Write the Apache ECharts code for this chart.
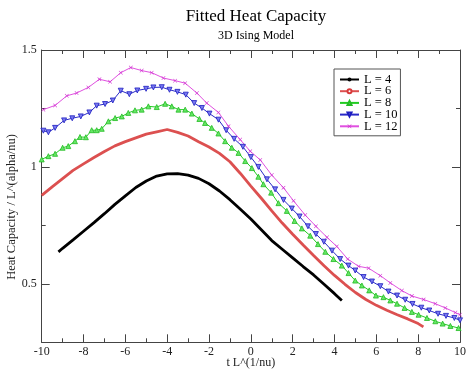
<!DOCTYPE html>
<html><head><meta charset="utf-8">
<script src="https://cdn.jsdelivr.net/npm/echarts@6/dist/echarts.min.js"></script>
<style>html,body{margin:0;padding:0;background:#fff}#c{width:466px;height:369px}</style>
</head><body><div id="c"></div>
<script>
// ---- data ----
const l4X=[-9.2,-9,-8.5,-8,-7.5,-7,-6.5,-6,-5.5,-5,-4.5,-4,-3.5,-3,-2.5,-2,-1.5,-1,-0.5,0,0.5,1,1.5,2,2.5,3,3.5,4,4.35];
const l4Y=[0.637,0.652,0.688,0.725,0.762,0.800,0.840,0.876,0.912,0.940,0.961,0.970,0.971,0.965,0.951,0.928,0.897,0.860,0.819,0.777,0.731,0.685,0.648,0.611,0.574,0.538,0.498,0.458,0.429];

const l6X=[-10,-9.5,-9,-8.5,-8,-7.5,-7,-6.5,-6,-5.5,-5,-4.5,-4,-3.5,-3,-2.5,-2,-1.5,-1,-0.5,0,0.5,1,1.5,2,2.5,3,3.5,4,4.5,5,5.5,6,6.5,7,7.5,8,8.25];
const l6Y=[0.878,0.915,0.950,0.985,1.013,1.040,1.066,1.090,1.108,1.124,1.140,1.150,1.160,1.148,1.132,1.108,1.085,1.058,1.022,0.972,0.918,0.866,0.812,0.760,0.712,0.666,0.621,0.577,0.536,0.498,0.463,0.433,0.408,0.387,0.368,0.350,0.330,0.316];

const l8X=[-10,-9.68,-9.36,-9.0,-8.73,-8.41,-8.17,-7.89,-7.61,-7.37,-7.13,-6.81,-6.49,-6.17,-5.86,-5.54,-5.22,-4.90,-4.50,-4.10,-3.78,-3.46,-3.14,-2.82,-2.46,-2.19,-1.87,-1.55,-1.23,-0.91,-0.59,-0.27,0.05,0.36,0.60,0.97,1.32,1.72,2.09,2.44,2.84,3.21,3.56,3.95,4.35,4.67,4.99,5.31,5.66,5.98,6.34,6.67,6.99,7.35,7.70,8.02,8.42,8.82,9.17,9.54,9.93];
const l8Y=[1.032,1.046,1.056,1.082,1.089,1.110,1.128,1.127,1.157,1.157,1.163,1.195,1.209,1.216,1.231,1.242,1.245,1.259,1.256,1.270,1.259,1.245,1.245,1.228,1.205,1.188,1.167,1.143,1.110,1.082,1.060,1.025,0.995,0.958,0.926,0.890,0.845,0.812,0.769,0.737,0.706,0.670,0.637,0.606,0.578,0.546,0.514,0.493,0.472,0.450,0.443,0.429,0.415,0.397,0.380,0.368,0.354,0.340,0.330,0.320,0.311];

const l10X=[-9.92,-9.68,-9.36,-8.93,-8.54,-8.13,-7.72,-7.37,-6.97,-6.60,-6.22,-5.81,-5.43,-5.01,-4.66,-4.26,-3.89,-3.51,-3.11,-2.71,-2.34,-1.98,-1.55,-1.18,-0.80,-0.38,0.00,0.36,0.77,1.16,1.56,1.96,2.33,2.73,3.11,3.49,3.88,4.27,4.67,4.99,5.39,5.79,6.19,6.58,6.99,7.38,7.73,8.15,8.53,8.95,9.33,9.73,10];
const l10Y=[1.155,1.148,1.167,1.199,1.208,1.216,1.233,1.262,1.269,1.284,1.326,1.311,1.327,1.334,1.340,1.341,1.330,1.321,1.309,1.273,1.252,1.228,1.202,1.157,1.120,1.086,1.042,1.000,0.947,0.904,0.859,0.822,0.788,0.746,0.713,0.680,0.642,0.606,0.578,0.557,0.529,0.510,0.490,0.467,0.450,0.432,0.414,0.398,0.386,0.372,0.363,0.354,0.344];

const l12X=[-9.92,-9.36,-8.80,-8.33,-7.77,-7.24,-6.73,-6.22,-5.74,-5.22,-4.74,-4.18,-3.62,-3.14,-2.58,-2.11,-1.55,-1.07,-0.51,-0.03,0.45,1.00,1.56,2.04,2.60,3.11,3.64,4.11,4.63,5.15,5.63,6.19,6.67,7.22,7.70,8.26,8.82,9.30,9.78,10];
const l12Y=[1.245,1.263,1.304,1.316,1.340,1.375,1.364,1.403,1.425,1.412,1.403,1.380,1.369,1.358,1.316,1.273,1.233,1.174,1.117,1.067,1.030,0.965,0.911,0.855,0.794,0.746,0.699,0.660,0.606,0.575,0.567,0.535,0.504,0.471,0.448,0.433,0.415,0.397,0.377,0.368];

const seriesNames=['L = 4','L = 6','L = 8','L = 10','L = 12'];
const yMajorTicks=[0.5,1,1.5];
const yMinorTicks=[0.75,1.25];
const titleText='Fitted Heat Capacity';
const subtitleText='3D Ising Model';
const xName='t L^(1/nu)';
const yName='Heat Capacity / L^(alpha/nu)';

// ---- chart ----
const FONT='"Liberation Serif","DejaVu Serif",serif';
const AX='#444';
function pts(xs,ys){return xs.map((x,i)=>[x,ys[i]]);}
const xBase={type:'value',min:-10,max:10,interval:2,gridIndex:0,
  axisLine:{onZero:false,lineStyle:{color:AX,width:1}},splitLine:{show:false},
  axisTick:{inside:true,length:8,lineStyle:{color:AX}},
  minorTick:{show:true,splitNumber:2,length:4,lineStyle:{color:AX}}};
function yAx(pos,ticks,len,line,labels){
  return {type:'value',min:0.25,max:1.5,gridIndex:0,position:pos,
    axisLine:{show:line,onZero:false,lineStyle:{color:AX,width:1}},splitLine:{show:false},
    axisTick:{show:true,inside:true,length:len,lineStyle:{color:AX},customValues:ticks},
    axisLabel:labels?{fontFamily:FONT,fontSize:12,color:'#222',margin:5,customValues:ticks}:{show:false}};
}
const crossX='path://M0,1L1,0L5,4L9,0L10,1L6,5L10,9L9,10L5,6L1,10L0,9L4,5Z';

const chart=echarts.init(document.getElementById('c'),null,{renderer:'canvas'});
chart.setOption({
  animation:false,
  backgroundColor:'#fff',
  title:[
    {text:titleText,left:251,top:3,textAlign:'center',textStyle:{fontFamily:FONT,fontSize:17,fontWeight:'normal',color:'#000'}},
    {text:subtitleText,left:251,top:25,textAlign:'center',textStyle:{fontFamily:FONT,fontSize:12,fontWeight:'normal',color:'#000'}}
  ],
  grid:{left:41.7,right:6,top:50,bottom:26.7,containLabel:false,outerBoundsMode:'none'},
  legend:{orient:'vertical',left:334,top:69,itemWidth:19,itemHeight:5,itemGap:-1.3,
    padding:[4,3,3,5],borderColor:'#555',borderWidth:1,backgroundColor:'#fff',
    textStyle:{fontFamily:FONT,fontSize:12.5,color:'#000',lineHeight:11.5},
    data:seriesNames},
  xAxis:[
    Object.assign({},xBase,{position:'bottom',axisLabel:{fontFamily:FONT,fontSize:12,color:'#222',margin:4},
      name:xName,nameLocation:'middle',nameGap:15,nameMoveOverlap:false,nameTextStyle:{fontFamily:FONT,fontSize:12,color:'#222'}}),
    Object.assign({},xBase,{position:'top',axisLabel:{show:false}})
  ],
  yAxis:[
    yAx('left',yMajorTicks,8,true,true),
    yAx('right',yMajorTicks,8,true,false),
    yAx('left',yMinorTicks,4,false,false),
    yAx('right',yMinorTicks,4,false,false)
  ],
  graphic:[{type:'text',x:12,y:207,rotation:Math.PI/2,
    style:{text:yName,fontFamily:FONT,fontSize:12.5,fill:'#222',textAlign:'center',textVerticalAlign:'middle'}}],
  series:[
    {name:seriesNames[0],type:'line',data:pts(l4X,l4Y),color:'#000',
      lineStyle:{width:2.8,color:'#000'},symbol:'circle',symbolSize:2,showSymbol:false},
    {name:seriesNames[1],type:'line',data:pts(l6X,l6Y),color:'#d83a3a',
      lineStyle:{width:2.8,color:'#dc5050'},symbol:'emptyCircle',symbolSize:3,showSymbol:false},
    {name:seriesNames[2],type:'line',data:pts(l8X,l8Y),color:'#22cc22',
      lineStyle:{width:1,color:'#22cc22'},symbol:'triangle',symbolSize:5,
      itemStyle:{color:'#66e666',borderColor:'#22bb22',borderWidth:0.8}},
    {name:seriesNames[3],type:'line',data:pts(l10X,l10Y),color:'#2020c8',
      lineStyle:{width:1,color:'#2a2ac8'},symbol:'triangle',symbolRotate:180,symbolSize:5,
      itemStyle:{color:'#7a7af0',borderColor:'#1c1cc0',borderWidth:0.8}},
    {name:seriesNames[4],type:'line',data:pts(l12X,l12Y),color:'#e040e0',
      lineStyle:{width:1,color:'#e050e0'},symbol:crossX,symbolSize:4,
      itemStyle:{color:'#d030d0'}}
  ]
});
</script></body></html>
